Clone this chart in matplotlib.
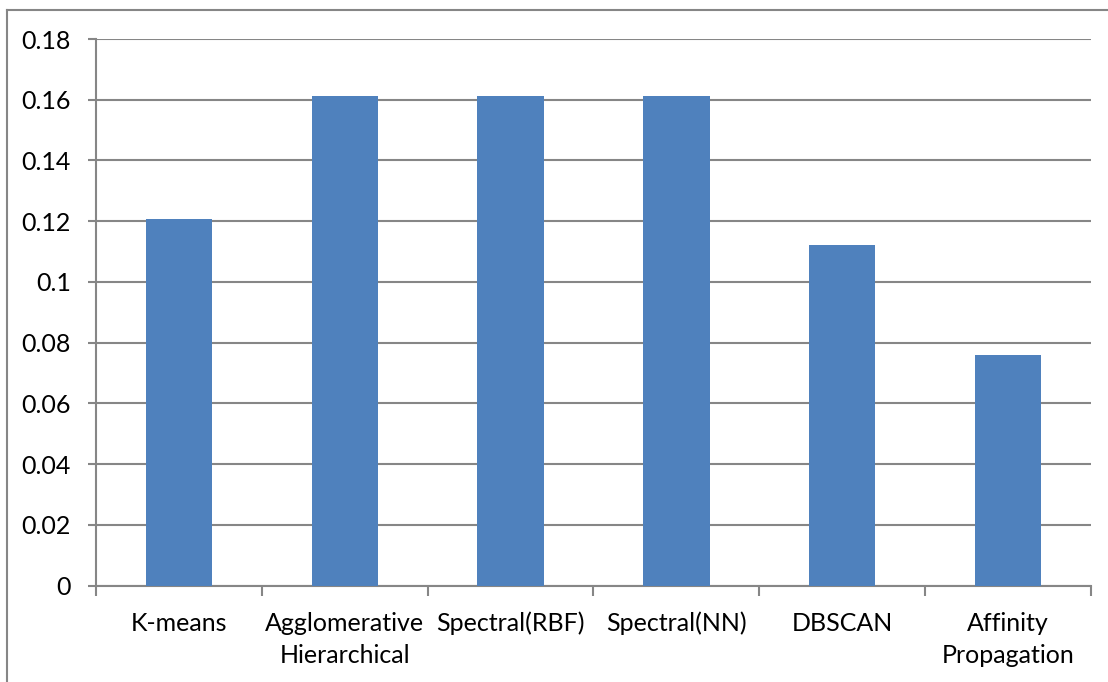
import matplotlib
matplotlib.use('Agg')
import matplotlib.pyplot as plt
from matplotlib.lines import Line2D

# values
methods = ['K-means', 'Agglomerative\nHierarchical', 'Spectral(RBF)',
           'Spectral(NN)', 'DBSCAN', 'Affinity\nPropagation']
scores = [0.1208, 0.1613, 0.1613, 0.1613, 0.1122, 0.0759]
yticks = [0, 0.02, 0.04, 0.06, 0.08, 0.1, 0.12, 0.14, 0.16, 0.18]
ylabels = ['0', '0.02', '0.04', '0.06', '0.08', '0.1', '0.12', '0.14', '0.16', '0.18']

W, H = 1108, 682
GRID = '#868686'
BAR = '#4F81BD'

plt.rcParams['font.family'] = ['Lato', 'DejaVu Sans']

fig = plt.figure(figsize=(W / 100, H / 100), dpi=100)
ax = fig.add_axes([96 / W, 1 - 585.5 / H, (1091 - 96) / W, (585.5 - 39) / H])

xs = list(range(len(methods)))
ax.bar(xs, scores, width=0.4, color=BAR, zorder=3)

ax.set_xlim(-0.5, len(methods) - 0.5)
ax.set_ylim(0, 0.18)
ax.set_yticks(yticks)
ax.set_yticklabels(ylabels, fontsize=18)
ax.yaxis.grid(True, color=GRID, linewidth=1.5, zorder=0)

# x ticks sit between categories, labels centred under the bars
ax.set_xticks([x - 0.5 for x in range(len(methods) + 1)])
ax.set_xticklabels([])
ax.set_xticks(xs, minor=True)
ax.set_xticklabels(methods, minor=True, fontsize=18, linespacing=1.5, va='top')
ax.tick_params(axis='x', which='minor', length=0, pad=19)
ax.tick_params(axis='x', which='major', length=7, width=1.5, color=GRID, direction='out')
ax.tick_params(axis='y', length=6, width=1.5, color=GRID, pad=12)

for s in ['top', 'right']:
    ax.spines[s].set_visible(False)
for s in ['left', 'bottom']:
    ax.spines[s].set_color(GRID)
    ax.spines[s].set_linewidth(1.5)

# outer chart frame (cut off at right and bottom)
fig.add_artist(Line2D([7 / W, 7 / W], [0, 1 - 10 / H], transform=fig.transFigure, color=GRID, lw=1.5))
fig.add_artist(Line2D([7 / W, 1], [1 - 10 / H, 1 - 10 / H], transform=fig.transFigure, color=GRID, lw=1.5))

fig.savefig('out.png', dpi=100)
